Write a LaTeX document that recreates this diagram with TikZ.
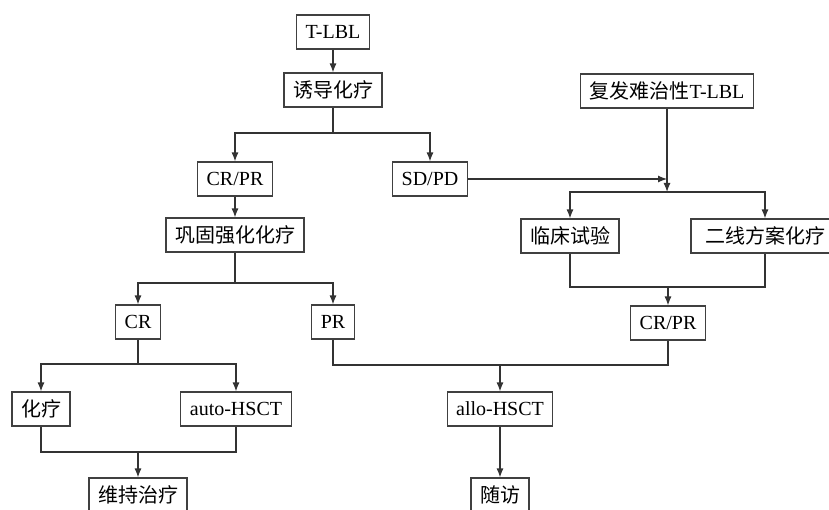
\documentclass[tikz,border=0pt]{standalone}
\usepackage{fontspec}
\setmainfont{Liberation Serif}
\newfontfamily\cjk{Noto Sans CJK SC}
\usepackage{tikz}
\usetikzlibrary{arrows.meta, positioning, calc}

\tikzset{
    box/.style={draw=black!75, line width=1.1pt, fill=white, minimum height=34pt,
        inner xsep=9pt, inner ysep=0pt, font=\fontsize{20}{24}\selectfont},
    link/.style={draw=black!80, line width=1.2pt},
    arr/.style={link, -{Latex[length=9pt,width=7pt]}}
}

\begin{document}
\begin{tikzpicture}[x=1pt, y=-1pt]
    \useasboundingbox (0,0) rectangle (829,510);

    % Left column: first line treatment
    \node[box] (tlbl) at (333,32) {T-LBL};
    \node[box] (induct) at (333,90) {\cjk 诱导化疗};
    \node[box] (crpr) at (235,179) {CR/PR};
    \node[box] (sdpd) at (430,179) {SD/PD};
    \node[box] (consol) at (235,235) {\cjk 巩固强化化疗};
    \node[box] (cr) at (138,322) {CR};
    \node[box] (pr) at (333,322) {PR};
    \node[box] (chemo) at (41,409) {\cjk 化疗};
    \node[box] (auto) at (236,409) {auto-HSCT};
    \node[box] (maint) at (138,495) {\cjk 维持治疗};

    % Right column: relapsed / refractory
    \node[box] (relapse) at (667,91) {{\cjk 复发难治性}T-LBL};
    \node[box] (trial) at (570,236) {\cjk 临床试验};
    \node[box, minimum width=148pt] (second) at (765,236) {\cjk 二线方案化疗};
    \node[box] (crpr2) at (668,323) {CR/PR};
    \node[box] (allo) at (500,409) {allo-HSCT};
    \node[box] (follow) at (500,495) {\cjk 随访};

    % Junctions
    \coordinate (j1) at (333,133);
    \coordinate (j2) at (667,192);
    \coordinate (j3) at (668,287);
    \coordinate (j4) at (235,283);
    \coordinate (j5) at (138,364);
    \coordinate (j6) at (138,452);
    \coordinate (j7) at (500,365);
    \coordinate (meet) at (relapse.south |- sdpd.east);

    % Connectors
    \draw[arr] (tlbl) -- (induct);
    \draw[link] (induct.south) -- (j1);
    \draw[arr] (j1) -| (crpr.north);
    \draw[arr] (j1) -| (sdpd.north);
    \draw[arr] (sdpd.east) -- (meet);

    \draw[arr] (relapse.south) -- (j2);
    \draw[arr] (j2) -| (trial.north);
    \draw[arr] (j2) -| (second.north);
    \draw[link] (trial.south) |- (j3) -| (second.south);
    \draw[arr] (j3) -- (crpr2.north);

    \draw[arr] (crpr) -- (consol);
    \draw[link] (consol.south) -- (j4);
    \draw[arr] (j4) -| (cr.north);
    \draw[arr] (j4) -| (pr.north);

    \draw[link] (cr.south) -- (j5);
    \draw[arr] (j5) -| (chemo.north);
    \draw[arr] (j5) -| (auto.north);
    \draw[link] (chemo.south) |- (j6) -| (auto.south);
    \draw[arr] (j6) -- (maint.north);

    \draw[link] (pr.south) |- (j7) -| (crpr2.south);
    \draw[arr] (j7) -- (allo.north);
    \draw[arr] (allo) -- (follow);
\end{tikzpicture}
\end{document}
